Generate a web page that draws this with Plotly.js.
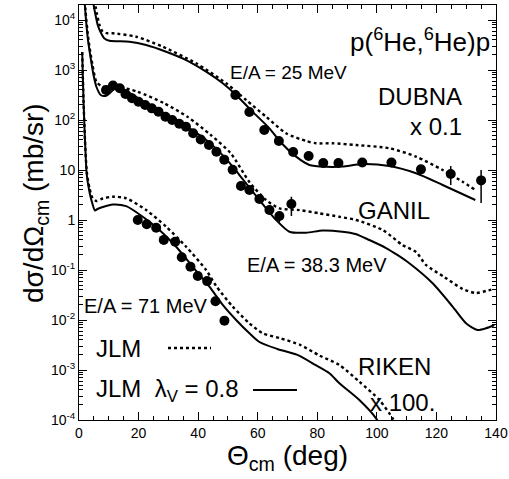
<!DOCTYPE html>
<html>
<head>
<meta charset="utf-8">
<script src="https://cdn.plot.ly/plotly-3.0.1.min.js"></script>
<style>html,body{margin:0;padding:0;background:#fff;}#chart{width:509px;height:479px;}</style>
</head>
<body>
<div id="chart"></div>
<script>
// ---------- DUBNA (E/A = 25 MeV, x 0.1) ----------
const dubnaDataX = [52.5, 57.2, 62.2, 67.1, 71.9, 77.1, 82.0, 87.1, 95.1, 104.9, 114.8, 124.8, 135.0];
const dubnaDataY = [316, 145, 63, 38, 22.9, 19, 13.8, 13.8, 14.1, 14.1, 10.3, 8.3, 6.2];
const dubnaErrPlus = [0, 15, 6, 5, 3, 0, 0, 0, 0, 0, 1.2, 3.7, 3.8];
const dubnaErrMinus = [0, 15, 6, 5, 3, 0, 0, 0, 0, 0, 1.2, 3.3, 4.0];
const dubnaSolidX = [4.36, 4.63, 5.54, 6.38, 7.45, 8.56, 10.23, 16.95, 22.55, 29.26, 35.97, 42.68, 48.26, 52.75, 58.22, 63.93, 67.62, 72.89, 77.35, 82.95, 88.42, 95.23, 104.2, 113.15, 122.1, 133.05];
const dubnaSolidY = [31600, 25100, 12600, 7590, 5420, 4270, 3850, 3680, 3160, 2320, 1580, 925, 542, 316, 147, 68.2, 36.3, 18.5, 12.6, 11.6, 11.7, 13.2, 12.0, 8.59, 5.01, 2.51];
const dubnaDotX = [5.2, 6.04, 6.88, 7.99, 9.56, 11.34, 19.19, 28.12, 39.33, 49.40, 56.11, 62.82, 69.53, 76.24, 79.6, 85.17, 93.0, 104.2, 113.15, 122.1, 128.8, 133.05];
const dubnaDotY = [25100, 13200, 7940, 5830, 5420, 5420, 4630, 2920, 1360, 542, 251, 116, 54.2, 38.0, 34.2, 34.2, 31.6, 27.2, 18.5, 10.0, 5.83, 3.98];

// ---------- GANIL (E/A = 38.3 MeV) ----------
const ganilDataX = [9.06, 11.41, 13.69, 15.60, 17.79, 19.97, 22.21, 24.43, 26.68, 29.03, 31.28, 33.66, 35.91, 38.32, 40.87, 43.62, 46.14, 48.76, 51.58, 54.36, 57.21, 60.57, 63.93, 67.28, 71.31];
const ganilDataY = [398, 490, 430, 331, 272, 232, 200, 171, 147, 116, 100, 84.3, 73.5, 54.2, 40.7, 31.6, 23.2, 16.1, 10.1, 4.79, 3.98, 2.63, 1.58, 1.20, 2.09];
const ganilErrPlus = [0,0,0,0,0,0,0,0,0,0,0,0,0,0,0,0,0,0,0,0,0,0,0,0.3,0.83];
const ganilErrMinus = [0,0,0,0,0,0,0,0,0,0,0,0,0,0,0,0,0,0,0,0,0,0,0,0.3,0.89];
const ganilSolidX = [1.68, 1.85, 2.35, 3.02, 4.03, 4.87, 5.87, 7.32, 8.89, 10.23, 11.81, 13.59, 16.28, 21.88, 28.59, 35.30, 42.01, 48.72, 53.86, 60.57, 66.17, 70.64, 76.24, 81.81, 88.42, 92.79, 97.48, 103.09, 106.88, 110.91, 118.72, 125.44, 129.93, 133.83, 136.64, 139.43];
const ganilSolidY = [39800, 25100, 10000, 3980, 1580, 794, 457, 316, 302, 339, 417, 437, 368, 232, 136, 79.4, 43.1, 18.5, 7.94, 2.51, 1.0, 0.583, 0.557, 0.617, 0.583, 0.525, 0.398, 0.275, 0.200, 0.136, 0.0542, 0.0185, 0.00859, 0.00631, 0.00682, 0.00794];
const ganilDotX = [2.01, 2.18, 3.19, 4.53, 5.87, 7.45, 9.56, 12.92, 19.63, 28.59, 36.41, 44.23, 50.94, 57.21, 62.82, 67.28, 73.99, 80.70, 87.42, 93.02, 101.95, 108.6, 113.15, 116.5, 122.65, 128.8, 133.3, 136.6, 139.4];
const ganilDotY = [31600, 15800, 3980, 1260, 575, 479, 447, 463, 368, 216, 116, 50.1, 21.6, 5.75, 2.51, 1.71, 1.58, 1.36, 1.16, 1.0, 0.631, 0.316, 0.229, 0.126, 0.0724, 0.0417, 0.0347, 0.0380, 0.0417];

// ---------- RIKEN (E/A = 71 MeV, x 100.) ----------
const rikenDataX = [19.73, 22.75, 25.91, 28.46, 32.28, 34.50, 37.42, 39.87, 43.02, 45.81, 48.83];
const rikenDataY = [1.0, 0.82, 0.70, 0.40, 0.368, 0.18, 0.116, 0.076, 0.060, 0.0238, 0.0097];
const rikenSolidX = [1.07, 1.51, 2.01, 2.62, 3.52, 4.53, 5.37, 6.21, 7.99, 11.34, 15.84, 21.41, 27.01, 32.62, 38.19, 43.79, 48.26, 52.75, 57.21, 60.57, 66.61, 73.32, 79.36, 84.06, 87.42, 94.13, 99.73, 101.5];
const rikenSolidY = [2290, 251, 39.8, 7.94, 3.63, 2.09, 1.55, 1.66, 1.82, 2.04, 1.89, 1.16, 0.631, 0.292, 0.116, 0.0463, 0.0200, 0.0100, 0.00542, 0.00363, 0.00263, 0.00200, 0.00126, 0.000859, 0.000542, 0.000251, 0.000108, 0.0000692];
const rikenDotX = [1.07, 1.51, 2.01, 2.62, 3.52, 4.53, 5.77, 7.99, 11.34, 15.84, 22.55, 29.26, 35.97, 42.68, 46.04, 51.61, 57.21, 61.68, 67.62, 74.33, 80.70, 87.42, 94.13, 100.84, 105.3, 106.5];
const rikenDotY = [2290, 251, 39.8, 9.12, 4.37, 2.75, 2.40, 2.69, 2.92, 2.72, 1.58, 0.735, 0.292, 0.100, 0.0479, 0.0185, 0.00859, 0.00542, 0.00431, 0.00316, 0.00195, 0.00126, 0.000583, 0.000251, 0.000108, 0.0000759];

// ---------- ticks ----------
const xTickVals = [0, 20, 40, 60, 80, 100, 120, 140];
const xTickText = ["0", "20", "40", "60", "80", "100", "120", "140"];
const yTickVals = [1e-4, 1e-3, 1e-2, 1e-1, 1, 10, 100, 1000, 10000];
const yTickText = ["10<sup>-4</sup>", "10<sup>-3</sup>", "10<sup>-2</sup>", "10<sup>-1</sup>", "1", "10", "10<sup>2</sup>", "10<sup>3</sup>", "10<sup>4</sup>"];

const yMinor = [];
for (let e = -4; e <= 4; e++) for (let m = 2; m <= 9; m++) yMinor.push(m * Math.pow(10, e));

const FONT = "Liberation Sans, Arial, Helvetica, sans-serif";
const solidLine = {color: "black", width: 2, shape: "spline", smoothing: 0.7};
const dotLine = {color: "black", width: 2.4, dash: "3px,3px", shape: "spline", smoothing: 0.7};

function curve(x, y, line) {
  return {x: x, y: y, type: "scatter", mode: "lines", line: line, hoverinfo: "skip", showlegend: false, cliponaxis: true};
}
function pts(x, y, ep, em) {
  const t = {x: x, y: y, type: "scatter", mode: "markers", marker: {color: "black", size: 10}, showlegend: false, cliponaxis: false};
  if (ep) t.error_y = {type: "data", symmetric: false, array: ep, arrayminus: em, color: "black", thickness: 1.5, width: 0};
  return t;
}

const traces = [
  curve(dubnaDotX, dubnaDotY, dotLine),
  curve(dubnaSolidX, dubnaSolidY, solidLine),
  curve(ganilDotX, ganilDotY, dotLine),
  curve(ganilSolidX, ganilSolidY, solidLine),
  curve(rikenDotX, rikenDotY, dotLine),
  curve(rikenSolidX, rikenSolidY, solidLine),
  pts(dubnaDataX, dubnaDataY, dubnaErrPlus, dubnaErrMinus),
  pts(ganilDataX, ganilDataY, ganilErrPlus, ganilErrMinus),
  pts(rikenDataX, rikenDataY)
];

// plot area in pixels: left 79, right 496, top 5, bottom 420
const L = 79, R = 496, T = 5, B = 420;
const px = v => (v - L) / (R - L);
const py = v => (B - v) / (B - T);

function ann(text, x, y, size, xanchor) {
  return {text: text, xref: "paper", yref: "paper", x: px(x), y: py(y), xanchor: xanchor || "left", yanchor: "middle",
          showarrow: false, font: {family: FONT, size: size, color: "black"}};
}

const annotations = [
  ann("p(<sup>6</sup>He,<sup>6</sup>He)p", 492, 40, 26, "right"),
  ann("E/A = 25 MeV", 228, 73, 19),
  ann("DUBNA", 464, 97, 24, "right"),
  ann("x 0.1", 464, 126, 24, "right"),
  ann("GANIL", 356, 210, 24),
  ann("E/A = 38.3 MeV", 245, 265, 20),
  ann("E/A = 71 MeV", 82, 306, 20),
  ann("JLM", 94, 348, 24),
  ann("JLM  λ<sub>V</sub> = 0.8", 94, 390, 24),
  ann("RIKEN", 356, 366, 24),
  ann("x 100.", 368, 402, 24),
  {text: "dσ/dΩ<sub>cm</sub> (mb/sr)", xref: "paper", yref: "paper", x: px(36), y: py(203), xanchor: "center", yanchor: "middle",
   textangle: -90, showarrow: false, font: {family: FONT, size: 28, color: "black"}},
  {text: "Θ<sub>cm</sub> (deg)", xref: "paper", yref: "paper", x: px(287), y: py(457), xanchor: "center", yanchor: "middle",
   showarrow: false, font: {family: FONT, size: 28, color: "black"}}
];

const shapes = [
  {type: "line", xref: "paper", yref: "paper", x0: px(168), x1: px(211), y0: py(348), y1: py(348), line: {color: "black", width: 2.4, dash: "3px,3px"}},
  {type: "line", xref: "paper", yref: "paper", x0: px(253), x1: px(297), y0: py(390), y1: py(390), line: {color: "black", width: 2}}
];

const layout = {
  width: 509, height: 479,
  margin: {l: L, r: 509 - R, t: T, b: 479 - B},
  paper_bgcolor: "white", plot_bgcolor: "white",
  showlegend: false,
  font: {family: FONT, color: "black", size: 14},
  xaxis: {
    range: [0, 140], tickmode: "array", tickvals: xTickVals, ticktext: xTickText,
    ticks: "inside", ticklen: 8, tickwidth: 1, tickcolor: "black",
    showline: true, linecolor: "black", linewidth: 1, mirror: "allticks",
    showgrid: false, zeroline: false, tickfont: {family: FONT, size: 14, color: "black"},
    minor: {tickmode: "linear", tick0: 0, dtick: 5, ticks: "inside", ticklen: 4, tickcolor: "black", showgrid: false}
  },
  yaxis: {
    type: "log", range: [-4, 4.3], tickmode: "array", tickvals: yTickVals, ticktext: yTickText,
    ticks: "inside", ticklen: 8, tickwidth: 1, tickcolor: "black",
    showline: true, linecolor: "black", linewidth: 1, mirror: "allticks",
    showgrid: false, zeroline: false, tickfont: {family: FONT, size: 14, color: "black"},
    minor: {tickmode: "array", tickvals: yMinor, ticks: "inside", ticklen: 4, tickcolor: "black", showgrid: false}
  },
  annotations: annotations,
  shapes: shapes
};

Plotly.newPlot("chart", traces, layout, {staticPlot: true, displayModeBar: false});
</script>
</body>
</html>
